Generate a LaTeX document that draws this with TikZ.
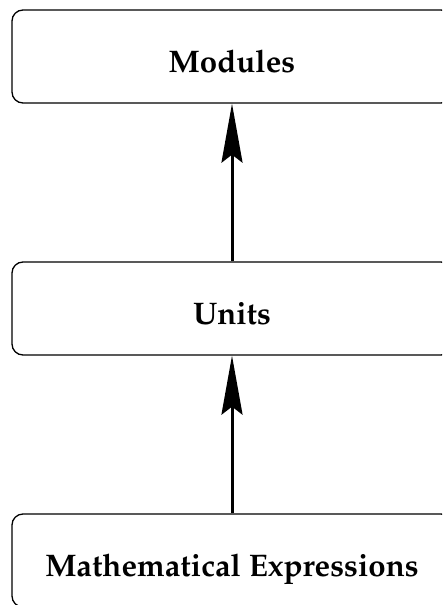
\documentclass[tikz,border=0pt]{standalone}
\usepackage[T1]{fontenc}
\usepackage{mathpazo}
\usetikzlibrary{arrows.meta}
\tikzset{
  layerbox/.style={draw, line width=1.3pt, rounded corners=11pt, minimum width=440pt, minimum height=93pt,
    inner sep=0pt, font=\fontsize{31.2}{36}\selectfont\bfseries, text height=32pt, text depth=0pt},
  uparrow/.style={line width=3pt, -{Stealth[length=59pt,width=21pt,inset=8pt]}}
}
\begin{document}
\begin{tikzpicture}[x=1pt,y=-1pt]
\useasboundingbox (0,0) rectangle (442,605);
\clip (0,0) rectangle (442,605);
\node[layerbox] (mod) at (232,56.5) {Modules};
\node[layerbox] (uni) at (232,308.5) {Units};
\node[layerbox] (math) at (232,560.5) {Mathematical Expressions};
\draw[uparrow] (uni.north) -- (mod.south);
\draw[uparrow] (math.north) -- (uni.south);
\end{tikzpicture}
\end{document}
